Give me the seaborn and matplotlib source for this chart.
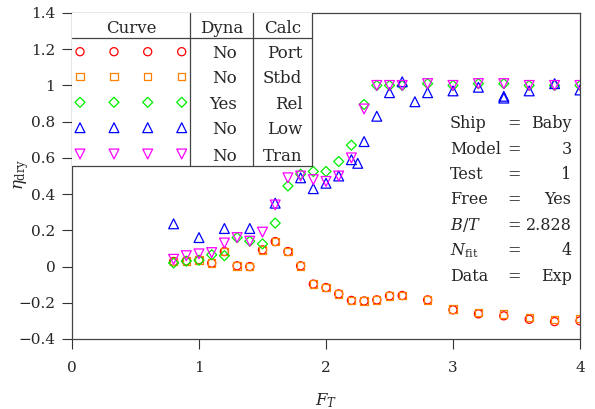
import numpy as np
import matplotlib
matplotlib.use("Agg")
import matplotlib.pyplot as plt
import matplotlib.patches as mpatches
import seaborn as sns

# data
port_x = [0.8, 0.9, 1.0, 1.1, 1.2, 1.3, 1.4, 1.5, 1.6, 1.7, 1.8, 1.9, 2.0, 2.1, 2.2, 2.3, 2.4, 2.5, 2.6,
          2.8, 3.0, 3.2, 3.4, 3.6, 3.8, 4.0]
port_y = [0.028, 0.031, 0.037, 0.019, 0.083, 0.004, 0.0, 0.092, 0.138, 0.083, 0.004, -0.097, -0.116,
          -0.151, -0.187, -0.19, -0.184, -0.162, -0.160, -0.184, -0.239, -0.261, -0.272, -0.291, -0.304, -0.30]
stbd_x = port_x
stbd_y = [0.028, 0.031, 0.037, 0.019, 0.083, 0.004, 0.0, 0.092, 0.138, 0.083, 0.004, -0.097, -0.116,
          -0.151, -0.187, -0.19, -0.184, -0.162, -0.160, -0.184, -0.235, -0.255, -0.262, -0.280, -0.292, -0.287]
rel_x = port_x
rel_y = [0.02, 0.03, 0.035, 0.065, 0.06, 0.16, 0.14, 0.125, 0.24, 0.445, 0.51, 0.525, 0.525, 0.58, 0.67,
         0.895, 1.0, 1.0, 1.0, 1.01, 1.0, 1.01, 1.01, 1.0, 1.0, 1.0]
low_x = [0.8, 1.0, 1.2, 1.4, 1.6, 1.8, 1.9, 2.0, 2.1, 2.2, 2.25, 2.3, 2.4, 2.5, 2.6, 2.7, 2.8,
         3.0, 3.2, 3.4, 3.4, 3.6, 3.8, 4.0]
low_y = [0.236, 0.16, 0.21, 0.21, 0.35, 0.49, 0.43, 0.46, 0.50, 0.59, 0.57, 0.69, 0.83, 0.96, 1.02, 0.91,
         0.96, 0.97, 0.99, 0.93, 0.94, 0.97, 1.01, 0.975]
tran_x = port_x
tran_y = [0.04, 0.06, 0.07, 0.077, 0.13, 0.16, 0.14, 0.19, 0.34, 0.49, 0.50, 0.48, 0.47, 0.50, 0.60,
          0.87, 1.0, 1.0, 1.0, 1.01, 1.0, 1.01, 1.01, 1.0, 1.0, 1.0]

series = [
    ("Port", port_x, port_y, "o", "#ff0000", 34, "No"),
    ("Stbd", stbd_x, stbd_y, "s", "#ff8000", 28, "No"),
    ("Rel", rel_x, rel_y, "D", "#00ee00", 26, "Yes"),
    ("Low", low_x, low_y, "^", "#0000ff", 50, "No"),
    ("Tran", tran_x, tran_y, "v", "#ff00ff", 50, "No"),
]

info_keys = ["Ship", "Model", "Test", "Free", r"$B/T$", r"$N_{\rm fit}$", "Data"]
info_vals = ["Baby", "3", "1", "Yes", "2.828", "4", "Exp"]

sns.set_style("ticks")
plt.rcParams["font.family"] = ["DejaVu Serif"]
plt.rcParams["mathtext.fontset"] = "dejavuserif"
plt.rcParams["font.size"] = 11

W, H = 595, 409
L, R, T, B = 72, 580, 13, 339
fig = plt.figure(figsize=(W / 100, H / 100), dpi=100)
ax = fig.add_axes([L / W, 1 - B / H, (R - L) / W, (B - T) / H])

for name, xs, ys, m, c, s, dyna in series:
    sns.scatterplot(x=xs, y=ys, ax=ax, marker=m, s=s, color=c, facecolor="none",
                    edgecolor=c, linewidth=0.9, zorder=3)

ax.set_xlim(0, 4)
ax.set_ylim(-0.4, 1.4)
ax.set_xticks([0, 1, 2, 3, 4])
yt = np.round(np.arange(-0.4, 1.41, 0.2), 1)
ax.set_yticks(yt)
ax.set_yticklabels([f"{v:g}".replace("-", "\u2212") for v in yt])
ax.tick_params(direction="out", length=7, width=0.8, color="#333333", pad=5)
ax.tick_params(axis="x", pad=9)
for sp in ax.spines.values():
    sp.set_visible(True)
    sp.set_color("#444444")
    sp.set_linewidth(0.9)
ax.set_xlabel(r"$F_T$", fontsize=12)
ax.set_ylabel(r"$\eta_{\rm dry}$", fontsize=12)


def fx(px):
    return (px - L) / (R - L)


def fy(py):
    return (B - py) / (B - T)


ax.xaxis.set_label_coords(fx(326), fy(405))
ax.xaxis.label.set_va("baseline")
ax.yaxis.set_label_coords(fx(31), fy(174))

# legend table in the upper left corner
tr = ax.transAxes
tl, trt, tt, tb = 72, 311.7, 13, 165.7
ax.add_patch(mpatches.Rectangle((fx(tl), fy(tb)), fx(trt) - fx(tl), fy(tt) - fy(tb),
                                transform=tr, facecolor="white", edgecolor="none", zorder=4))
lk = dict(transform=tr, color="#444444", lw=0.9, zorder=6, clip_on=False)
ax.plot([fx(tl), fx(trt)], [fy(38.3), fy(38.3)], **lk)
ax.plot([fx(tl), fx(trt)], [fy(tb), fy(tb)], **lk)
for xv in (190, 253.3, trt):
    ax.plot([fx(xv), fx(xv)], [fy(tt), fy(tb)], **lk)

tk = dict(transform=tr, va="baseline", zorder=6, fontsize=12)
ax.text(fx(131), fy(33.3), "Curve", ha="center", **tk)
ax.text(fx(221.7), fy(33.3), "Dyna", ha="center", **tk)
ax.text(fx(282.3), fy(33.3), "Calc", ha="center", **tk)
row_mid = [51.7, 76.7, 102.3, 127.7, 154]
for i, (name, xs, ys, m, c, s, dyna) in enumerate(series):
    ax.scatter([fx(p) for p in (80, 114, 147.7, 181.7)], [fy(row_mid[i])] * 4, transform=tr,
               marker=m, s=s, facecolor="none", edgecolor=c, linewidth=0.9, zorder=6, clip_on=False)
    ax.text(fx(236.7), fy(row_mid[i] + 6.5), dyna, ha="right", **tk)
    ax.text(fx(302.3), fy(row_mid[i] + 6.5), name, ha="right", **tk)

# run info on the right
ik = dict(transform=tr, va="baseline", zorder=6, fontsize=11.5)
for i, (k, v) in enumerate(zip(info_keys, info_vals)):
    yb = fy(128.3 + i * 25.4)
    ax.text(fx(450), yb, k, ha="left", **ik)
    ax.text(fx(514), yb, "=", ha="center", **ik)
    ax.text(fx(571.7), yb, v, ha="right", **ik)

fig.savefig("out.png", dpi=100)
